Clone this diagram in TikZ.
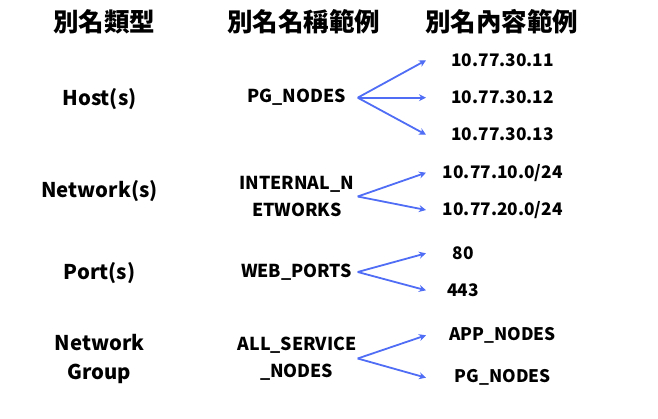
\documentclass[tikz,border=0pt]{standalone}
\usepackage{fontspec}
\usepackage{tikz}
\usetikzlibrary{arrows.meta}
\setmainfont{Noto Sans CJK TC}
\definecolor{linkblue}{HTML}{4F6DF5}

\begin{document}
\begin{tikzpicture}[x=1pt,y=-1pt,
head/.style={font=\fontsize{25.5}{28}\selectfont\bfseries,inner sep=0pt},
kind/.style={font=\fontsize{20.3}{29}\selectfont\bfseries,align=center,inner sep=0pt,yshift=-1.5pt},
alias/.style={font=\fontsize{17.8}{27}\selectfont\bfseries,text width=118pt,align=center,inner sep=0pt,outer sep=2pt,yshift=-1pt},
member/.style={font=\fontsize{17.3}{22}\selectfont\bfseries,text width=153pt,align=center,inner sep=0pt,anchor=west,yshift=-1pt},
link/.style={draw=linkblue,line width=1.8pt,-{Stealth[length=7pt,width=7pt]}}]
\useasboundingbox (0,0) rectangle (658,419);
% column heads
\node (thead) [head] at (104,22) {別名類型};
\node (nhead) [head] at (303.6,22) {別名名稱範例};
\node (chead) [head] at (501.6,22) {別名內容範例};
% alias types
\node (host) [kind] at (99.5,98) {Host(s)};
\node (net) [kind] at (99.5,190) {Network(s)};
\node (port) [kind] at (99.5,272) {Port(s)};
\node (grp) [kind] at (99.5,357) {Network\\Group};
% alias names
\node (pgn) [alias] at (296.7,96.7) {PG\_NODES};
\node (intn) [alias] at (296.7,195.5) {INTERNAL\_N\\ETWORKS};
\node (webp) [alias] at (296.7,271) {WEB\_PORTS};
\node (allsvc) [alias] at (296.7,357.5) {ALL\_SERVICE\\\_NODES};
% alias contents
\node (h1) [member] at (426,59.3) {10.77.30.11};
\node (h2) [member] at (426,96.7) {10.77.30.12};
\node (h3) [member] at (426,133.7) {10.77.30.13};
\node (n1) [member] at (426,171.7) {10.77.10.0/24};
\node (n2) [member] at (426,209) {10.77.20.0/24};
\node (p1) [member,text width=74pt] at (426,252.3) {80};
\node (p2) [member,text width=74pt] at (426,289.3) {443};
\node (g1) [member] at (426,334.3) {APP\_NODES};
\node (g2) [member] at (426,376.7) {PG\_NODES};
% connectors
\foreach \to in {h1,h2,h3} \draw [link] (pgn.east) -- (\to.west);
\foreach \to in {n1,n2} \draw [link] (intn.east) -- (\to.west);
\foreach \to in {p1,p2} \draw [link] (webp.east) -- (\to.west);
\foreach \to in {g1,g2} \draw [link] (allsvc.east) -- (\to.west);
\end{tikzpicture}
\end{document}
